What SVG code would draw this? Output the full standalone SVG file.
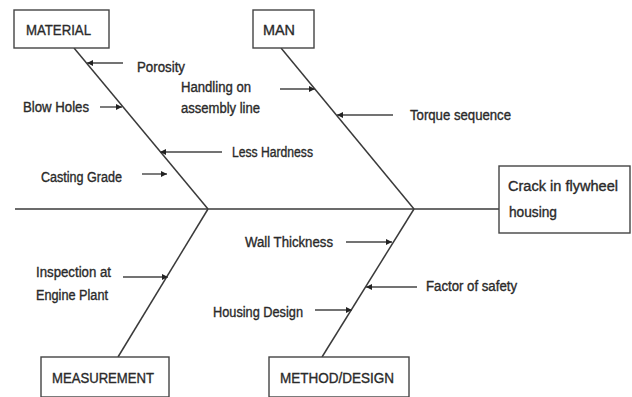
<svg xmlns="http://www.w3.org/2000/svg" width="632" height="397" viewBox="0 0 632 397">
<style>
text{font-family:"Liberation Sans",Arial,sans-serif;font-size:14px;fill:#2a2a2a;stroke:#2a2a2a;stroke-width:0.35}
.box{fill:#fff;stroke:#444;stroke-width:1.4}
.bone{stroke:#3a3a3a;stroke-width:1.5;fill:none}
.arr{stroke:#444;stroke-width:1.4;fill:none;marker-end:url(#ah)}
</style>
<defs>
<marker id="ah" viewBox="0 0 10 10" refX="10" refY="5" markerWidth="6" markerHeight="6" markerUnits="userSpaceOnUse" orient="auto">
<path d="M0,0L10,5L0,10z" fill="#222"/>
</marker>
</defs>
<rect width="632" height="397" fill="#fff"/>
<g id="connectors">
<line class="bone" x1="15" y1="209" x2="499" y2="209"/>
<line class="bone" x1="74" y1="48" x2="208" y2="209"/>
<line class="bone" x1="281" y1="48" x2="414" y2="209"/>
<line class="bone" x1="208" y1="209" x2="118" y2="357"/>
<line class="bone" x1="414" y1="209" x2="322" y2="357"/>
<line class="arr" x1="123" y1="63" x2="87" y2="63"/>
<line class="arr" x1="100" y1="107" x2="122" y2="107"/>
<line class="arr" x1="280" y1="89" x2="315" y2="89"/>
<line class="arr" x1="222" y1="152" x2="160" y2="152"/>
<line class="arr" x1="142" y1="174" x2="167" y2="174"/>
<line class="arr" x1="393" y1="115" x2="337" y2="115"/>
<line class="arr" x1="346" y1="242" x2="392" y2="242"/>
<line class="arr" x1="417" y1="287" x2="366" y2="287"/>
<line class="arr" x1="315" y1="310" x2="352" y2="310"/>
<line class="arr" x1="123" y1="277" x2="168" y2="277"/>
</g>
<g id="material"><rect class="box" x="14" y="10" width="95" height="38"/><text x="26" y="35" textLength="65" lengthAdjust="spacingAndGlyphs">MATERIAL</text></g>
<g id="man"><rect class="box" x="253" y="10" width="61" height="38"/><text x="263" y="35" textLength="32" lengthAdjust="spacingAndGlyphs">MAN</text></g>
<g id="crack"><rect class="box" x="499" y="166" width="131" height="67"/><text x="508" y="191" textLength="110" lengthAdjust="spacingAndGlyphs">Crack in flywheel</text><text x="509" y="217" textLength="48" lengthAdjust="spacingAndGlyphs">housing</text></g>
<g id="measurement"><rect class="box" x="41" y="357" width="128" height="40"/><text x="52" y="383" textLength="102" lengthAdjust="spacingAndGlyphs">MEASUREMENT</text></g>
<g id="method"><rect class="box" x="269" y="357" width="140" height="40"/><text x="280" y="383" textLength="114" lengthAdjust="spacingAndGlyphs">METHOD/DESIGN</text></g>
<g id="porosity"><text x="137" y="72" textLength="48" lengthAdjust="spacingAndGlyphs">Porosity</text></g>
<g id="handling"><text x="181" y="92" textLength="70" lengthAdjust="spacingAndGlyphs">Handling on</text><text x="181" y="113" textLength="79" lengthAdjust="spacingAndGlyphs">assembly line</text></g>
<g id="blowholes"><text x="23" y="112" textLength="66" lengthAdjust="spacingAndGlyphs">Blow Holes</text></g>
<g id="lesshardness"><text x="232" y="157" textLength="81" lengthAdjust="spacingAndGlyphs">Less Hardness</text></g>
<g id="castinggrade"><text x="41" y="182" textLength="81" lengthAdjust="spacingAndGlyphs">Casting Grade</text></g>
<g id="torque"><text x="410" y="120" textLength="101" lengthAdjust="spacingAndGlyphs">Torque sequence</text></g>
<g id="wall"><text x="245" y="247" textLength="88" lengthAdjust="spacingAndGlyphs">Wall Thickness</text></g>
<g id="factor"><text x="426" y="291" textLength="91" lengthAdjust="spacingAndGlyphs">Factor of safety</text></g>
<g id="housingdesign"><text x="213" y="317" textLength="90" lengthAdjust="spacingAndGlyphs">Housing Design</text></g>
<g id="inspection"><text x="36" y="277" textLength="75" lengthAdjust="spacingAndGlyphs">Inspection at</text><text x="36" y="300" textLength="72" lengthAdjust="spacingAndGlyphs">Engine Plant</text></g>
</svg>
